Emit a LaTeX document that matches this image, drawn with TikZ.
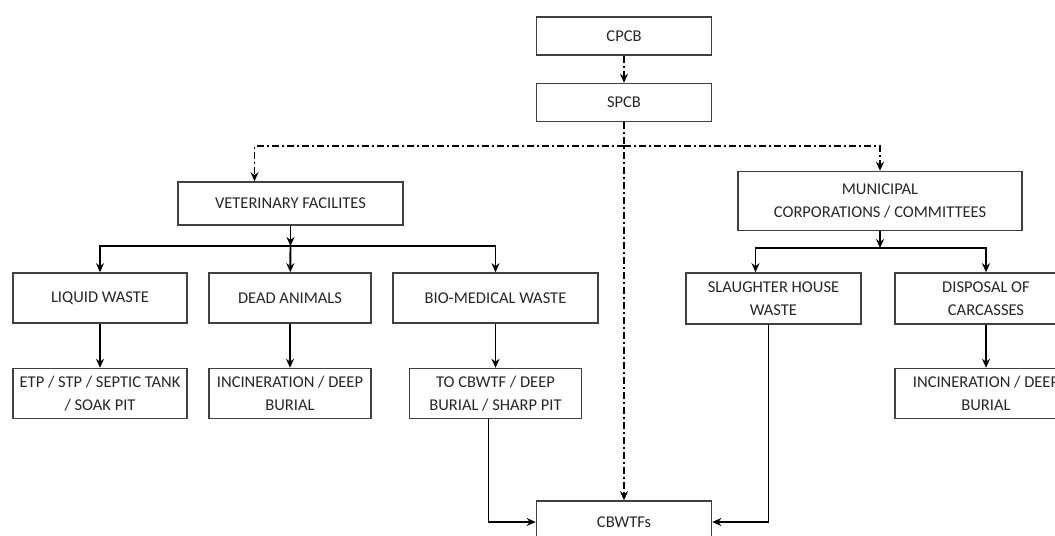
\documentclass[tikz,border=0pt]{standalone}
\usepackage{fontspec}
\setmainfont{Carlito}
\usetikzlibrary{shapes,arrows,arrows.meta,positioning}

\begin{document}
\begin{tikzpicture}[x=1bp, y=-1bp]
    \tikzstyle{box} = [rectangle, draw=black!75, line width=1.6bp, inner sep=0pt, align=center, text=black!85, font=\fontsize{16.5bp}{23bp}\selectfont]
    \tikzstyle{arrow} = [line width=1.9bp, ->, >={Stealth[length=9bp,width=8bp]}]
    \tikzstyle{dasharrow} = [arrow, dash pattern=on 7bp off 3bp on 2bp off 3bp]

    \useasboundingbox (0,0) rectangle (1055,536);
    \clip (0,0) rectangle (1055,536);

    % Boards
    \node [box, minimum width=175bp, minimum height=38bp] (cpcb) at (624,36) {CPCB};
    \node [box, minimum width=175bp, minimum height=38bp, below=27bp of cpcb] (spcb) {SPCB};

    % Veterinary side
    \node [box, minimum width=225bp, minimum height=43bp] (vet) at (290.5,203.5) {VETERINARY FACILITES};
    \node [box, minimum width=174bp, minimum height=50bp] (liquid) at (100,298) {LIQUID WASTE};
    \node [box, minimum width=162bp, minimum height=50bp] (dead) at (290,298) {DEAD ANIMALS};
    \node [box, minimum width=205bp, minimum height=50bp] (bio) at (495.5,298) {BIO-MEDICAL WASTE};
    \node [box, minimum width=174bp, minimum height=50bp, below=44bp of liquid] (etp) {ETP / STP / SEPTIC TANK\\/ SOAK PIT};
    \node [box, minimum width=162bp, minimum height=50bp, below=44bp of dead] (incinvet) {INCINERATION / DEEP\\BURIAL};
    \node [box, minimum width=172bp, minimum height=50bp, below=44bp of bio] (tocbwtf) {TO CBWTF / DEEP\\BURIAL / SHARP PIT};

    % Municipal side
    \node [box, minimum width=284bp, minimum height=59bp] (muni) at (880,201) {MUNICIPAL\\CORPORATIONS / COMMITTEES};
    \node [box, minimum width=175bp, minimum height=51bp] (slaughter) at (773.5,298.5) {SLAUGHTER HOUSE\\WASTE};
    \node [box, minimum width=182bp, minimum height=51bp] (carcass) at (986,298.5) {DISPOSAL OF\\CARCASSES};
    \node [box, minimum width=182bp, minimum height=50bp, below=43bp of carcass] (incinmuni) {INCINERATION / DEEP\\BURIAL};

    % Treatment facility
    \node [box, minimum width=175bp, minimum height=42bp] (cbwtf) at (624,522) {CBWTFs};

    % Junctions
    \coordinate (spcbsplit) at (spcb.south |- 0,146);
    \coordinate (vetsplit) at (vet.south |- 0,246);
    \coordinate (munisplit) at (muni.south |- 0,248);

    % Dash-dot arrows
    \draw [dasharrow] (cpcb) -- (spcb);
    \draw [dasharrow] (spcb) -- (cbwtf);
    \draw [dasharrow] (spcbsplit) -| ([xshift=-36bp]vet.north);
    \draw [dasharrow] (spcbsplit) -| (muni.north);

    % Arrows
    \draw [arrow] (vet) -- (vetsplit);
    \draw [arrow] (vetsplit) -| (liquid);
    \draw [arrow] (vetsplit) -- (dead);
    \draw [arrow] (vetsplit) -| (bio);
    \draw [arrow] (liquid) -- (etp);
    \draw [arrow] (dead) -- (incinvet);
    \draw [arrow] (bio) -- (tocbwtf);
    \draw [arrow] (muni) -- (munisplit);
    \draw [arrow] (munisplit) -| ([xshift=-18bp]slaughter.north);
    \draw [arrow] (munisplit) -| (carcass);
    \draw [arrow] (carcass) -- (incinmuni);
    \draw [arrow] ([xshift=-7bp]tocbwtf.south) |- (cbwtf.west);
    \draw [arrow] ([xshift=-5bp]slaughter.south) |- (cbwtf.east);
\end{tikzpicture}
\end{document}
